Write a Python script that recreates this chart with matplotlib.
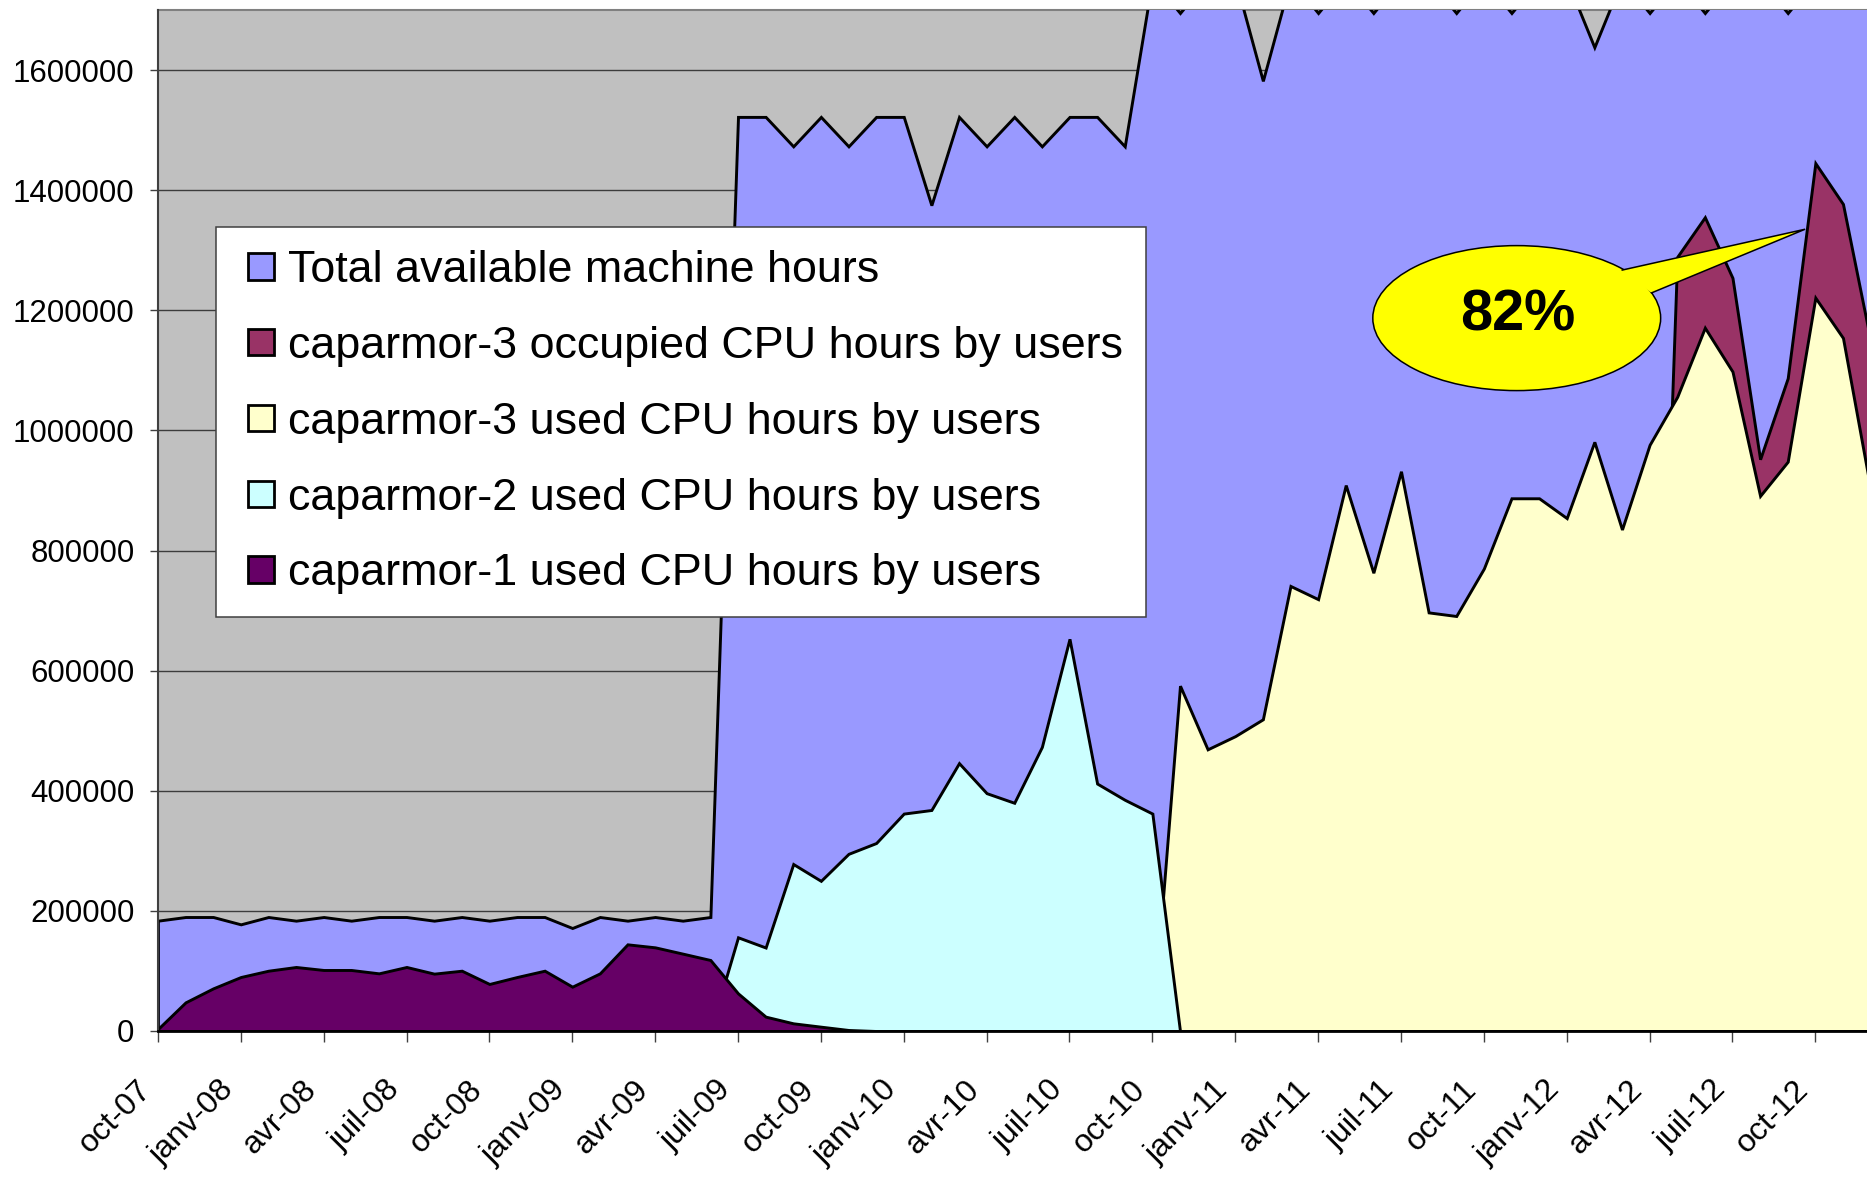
import numpy as np
import matplotlib
matplotlib.use("Agg")
import matplotlib.pyplot as plt
from matplotlib.patches import Patch, Rectangle, Ellipse, Polygon
from matplotlib.legend_handler import HandlerPatch

# ---------------- data (monthly, oct-07 .. dec-12) ----------------
total_hours = [
    183700, 189800, 189800, 177600, 189800, 183700, 189800, 183700, 189800, 189800,
    183700, 189800, 183700, 189800, 189800, 171500, 189800, 183700, 189800, 183700,
    189800, 1522000, 1522000, 1473000, 1522000, 1473000, 1522000, 1522000, 1375000, 1522000,
    1473000, 1522000, 1473000, 1522000, 1522000, 1473000, 1751000, 1695000, 1751000, 1751000,
    1582000, 1751000, 1695000, 1751000, 1695000, 1751000, 1751000, 1695000, 1751000, 1695000,
    1751000, 1751000, 1638000, 1751000, 1695000, 1751000, 1695000, 1751000, 1751000, 1695000,
    1751000, 1765000, 1751000]

c3_occupied = [
    0, 0, 0, 0, 0, 0, 0, 0, 0, 0,
    0, 0, 0, 0, 0, 0, 0, 0, 0, 0,
    0, 0, 0, 0, 0, 0, 0, 0, 0, 0,
    0, 0, 0, 0, 0, 0, 0, 0, 0, 0,
    0, 0, 0, 0, 0, 0, 0, 0, 0, 0,
    0, 0, 0, 0, 0, 1289000, 1355000, 1254000, 952000, 1087000,
    1445000, 1377000, 1149000]

c3_used = [
    0, 0, 0, 0, 0, 0, 0, 0, 0, 0,
    0, 0, 0, 0, 0, 0, 0, 0, 0, 0,
    0, 0, 0, 0, 0, 0, 0, 0, 0, 0,
    0, 0, 0, 0, 0, 0, 0, 575000, 469000, 491000,
    519000, 741000, 719000, 909000, 763000, 932000, 697000, 691000, 770000, 887000,
    887000, 854000, 981000, 835000, 976000, 1056000, 1171000, 1098000, 891000, 948000,
    1221000, 1154000, 902000]

c2_used = [
    0, 0, 0, 0, 0, 0, 0, 0, 0, 0,
    0, 0, 0, 0, 0, 0, 0, 0, 0, 0,
    0, 156000, 139000, 278000, 250000, 295000, 313000, 362000, 368000, 446000,
    396000, 380000, 473000, 653000, 412000, 385000, 362000, 0, 0, 0,
    0, 0, 0, 0, 0, 0, 0, 0, 0, 0,
    0, 0, 0, 0, 0, 0, 0, 0, 0, 0,
    0, 0, 0]

c1_used = [
    3300, 47700, 71000, 89900, 100400, 106600, 101600, 101600, 96000, 106600,
    95500, 100400, 78300, 89900, 100400, 73800, 96000, 144300, 139300, 128800,
    118200, 62700, 23900, 12800, 7200, 1700, 0, 0, 0, 0,
    0, 0, 0, 0, 0, 0, 0, 0, 0, 0,
    0, 0, 0, 0, 0, 0, 0, 0, 0, 0,
    0, 0, 0, 0, 0, 0, 0, 0, 0, 0,
    0, 0, 0]

series_labels = ["Total available machine hours",
                 "caparmor-3 occupied CPU hours by users",
                 "caparmor-3 used CPU hours by users",
                 "caparmor-2 used CPU hours by users",
                 "caparmor-1 used CPU hours by users"]

tick_labels = ["oct-07", "janv-08", "avr-08", "juil-08", "oct-08", "janv-09", "avr-09",
               "juil-09", "oct-09", "janv-10", "avr-10", "juil-10", "oct-10", "janv-11",
               "avr-11", "juil-11", "oct-11", "janv-12", "avr-12", "juil-12", "oct-12"]

callout_text = "82%"

for s in (total_hours, c3_occupied, c3_used, c2_used, c1_used):
    assert len(s) == 63

# ---------------- fonts ----------------
plt.rcParams["font.family"] = ["Liberation Sans", "DejaVu Sans"]
fs_y, fs_x, fs_leg, fs_call = 22.5, 23, 32.3, 41.5

# ---------------- figure ----------------
W, H = 1867, 1182
fig = plt.figure(figsize=(W / 100, H / 100), dpi=100)
x0_px, y0_px, ytop_px = 157.9, 1031, 10
ax = fig.add_axes([x0_px / W, (H - y0_px) / H, (W - x0_px) / W, (y0_px - ytop_px) / H])
ax.set_facecolor("#C0C0C0")
ax.set_xlim(0, 61.87)
ax.set_ylim(0, 1700000)

x = np.arange(len(total_hours))
colors = ["#9999FF", "#993366", "#FFFFCC", "#CCFFFF", "#660066"]
all_series = [total_hours, c3_occupied, c3_used, c2_used, c1_used]
for k, (vals, col) in enumerate(zip(all_series, colors)):
    pc = ax.fill_between(x, 0, vals, facecolor=col, edgecolor="black",
                         linewidth=2.1, zorder=1.1 + 0.1 * k)
    pc.set_joinstyle("miter")

# grid / spines
ax.set_axisbelow(True)
ax.yaxis.grid(True, color="#3c3c3c", linewidth=1.0)
ax.spines["right"].set_visible(False)
ax.spines["top"].set_color("#808080")
ax.spines["top"].set_linewidth(1.5)
ax.spines["top"].set_zorder(0.6)
ax.spines["left"].set_color("#404040")
ax.spines["left"].set_linewidth(1.5)
ax.spines["left"].set_zorder(3)
ax.spines["bottom"].set_color("black")
ax.spines["bottom"].set_linewidth(2.0)
ax.spines["bottom"].set_zorder(3)

yt = np.arange(0, 1600001, 200000)
ax.set_yticks(yt)
ax.set_yticklabels([str(v) for v in yt])
ax.tick_params(axis="y", length=5.8, width=1, color="#404040", pad=11,
               labelsize=fs_y, direction="out")

xt = np.arange(0, 61, 3)
ax.set_xticks(xt)
ax.set_xticklabels([])
ax.tick_params(axis="x", length=7.7, width=1, color="#404040", direction="out")
for pos, lab in zip(xt, tick_labels):
    ax.annotate(lab, xy=(pos, 0), xycoords=("data", "axes fraction"),
                xytext=(-0.5, -31.5), textcoords="offset points",
                rotation=45, ha="right", va="top", fontsize=fs_x,
                annotation_clip=False)

# ---------------- legend ----------------
def sq_patch(legend, orig_handle, xdescent, ydescent, width, height, fontsize):
    s = 19.0
    return Rectangle((-xdescent + width - s, -ydescent + (height - s) / 2), s, s)

handles = [Patch(facecolor=c, edgecolor="black", linewidth=2.0) for c in colors]
leg = ax.legend(handles, series_labels, loc="upper left",
                bbox_to_anchor=(215.5 / W, 1 - 227.4 / H),
                bbox_transform=fig.transFigure, borderaxespad=0,
                fontsize=fs_leg, frameon=True, fancybox=False, shadow=False,
                framealpha=1, borderpad=0.509, labelspacing=0.775,
                handlelength=0.795, handleheight=0.7, handletextpad=0.312,
                handler_map={Patch: HandlerPatch(patch_func=sq_patch)})
leg.get_frame().set_edgecolor("#404040")
leg.get_frame().set_linewidth(1.1)
leg.get_frame().set_facecolor("white")
leg.set_zorder(10)

# ---------------- callout balloon ----------------
ell = Ellipse((49.19, 1187000), 10.42, 241400, facecolor="#FFFF00",
              edgecolor="black", linewidth=1.1, zorder=6)
ax.add_patch(ell)
tail_pts = [(53.01, 1267000), (59.63, 1335000), (54.07, 1229000)]
tail = Polygon(tail_pts, closed=True, facecolor="#FFFF00", edgecolor="none", zorder=6.1)
ax.add_patch(tail)
ax.plot([p[0] for p in tail_pts], [p[1] for p in tail_pts],
        color="black", linewidth=1.1, zorder=6.2, solid_joinstyle="miter")
ax.text(49.22, 1192000, callout_text, ha="center", va="center",
        fontsize=fs_call, fontweight="bold", zorder=7)

fig.savefig("out.png", dpi=100)
